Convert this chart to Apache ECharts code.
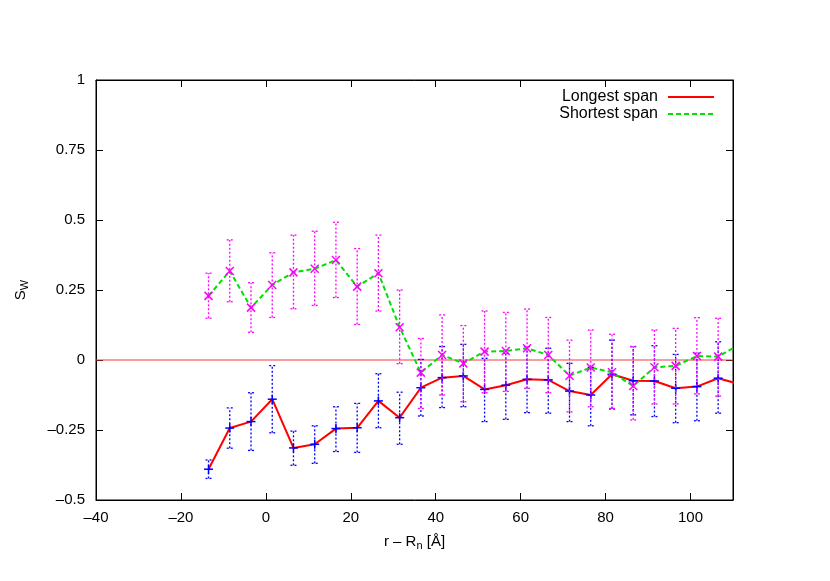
<!DOCTYPE html>
<html>
<head>
<meta charset="utf-8">
<script src="https://cdn.jsdelivr.net/npm/echarts@6/dist/echarts.min.js"></script>
<style>
  html, body { margin: 0; padding: 0; background: #fff; }
  #main { width: 830px; height: 581px; }
</style>
</head>
<body>
<div id="main"></div>
<script>
  // sample positions (r - Rn, in Å)
  const xPos = [-13.5, -8.5, -3.5, 1.5, 6.5, 11.5, 16.5, 21.5, 26.5, 31.5, 36.5, 41.5, 46.5,
    51.5, 56.5, 61.5, 66.5, 71.5, 76.5, 81.5, 86.5, 91.5, 96.5, 101.5, 106.5]

  // Longest span: value, upper and lower error
  const longY = [-0.39, -0.243, -0.22, -0.14, -0.314, -0.301, -0.245, -0.242, -0.146, -0.206, -0.099, -0.063, -0.057,
    -0.105, -0.09, -0.069, -0.071, -0.111, -0.125, -0.051, -0.074, -0.075, -0.101, -0.095, -0.065]
  const longHi = [-0.357, -0.171, -0.117, -0.02, -0.254, -0.235, -0.167, -0.155, -0.049, -0.115, 0.002, 0.048, 0.056,
    0.006, 0.024, 0.048, 0.042, -0.012, -0.026, 0.071, 0.048, 0.051, 0.02, 0.024, 0.065]
  const longLo = [-0.423, -0.315, -0.323, -0.26, -0.376, -0.369, -0.327, -0.33, -0.242, -0.301, -0.2, -0.17, -0.167,
    -0.22, -0.212, -0.188, -0.19, -0.22, -0.235, -0.175, -0.196, -0.202, -0.224, -0.217, -0.19]

  // Shortest span
  const shortY = [0.229, 0.318, 0.187, 0.268, 0.313, 0.326, 0.357, 0.262, 0.31, 0.117, -0.045, 0.018, -0.012,
    0.03, 0.032, 0.042, 0.018, -0.056, -0.027, -0.044, -0.093, -0.026, -0.021, 0.014, 0.012]
  const shortHi = [0.31, 0.429, 0.276, 0.383, 0.446, 0.46, 0.492, 0.398, 0.446, 0.25, 0.077, 0.161, 0.123,
    0.175, 0.17, 0.182, 0.152, 0.071, 0.107, 0.092, 0.048, 0.107, 0.113, 0.151, 0.149]
  const shortLo = [0.149, 0.208, 0.099, 0.152, 0.183, 0.195, 0.223, 0.127, 0.175, -0.013, -0.173, -0.125, -0.149,
    -0.117, -0.112, -0.101, -0.117, -0.185, -0.167, -0.173, -0.214, -0.157, -0.157, -0.121, -0.129]

  // next point, just past the right edge (line is clipped there)
  const tailX = 111.5
  const longTail = -0.086
  const shortTail = 0.055

  const xTicks = { min: -40, max: 110, interval: 20 }
  const yTicks = { min: -0.5, max: 1, interval: 0.25 }

  const FONT = 'Liberation Sans'
  const minus = v => String(v).replace('-', '\u2013')

  function lineData(ys, tail) {
    const d = xPos.map((x, i) => [x, ys[i]])
    d.push([tailX, tail])
    return d
  }
  function barData(ys, lo, hi) {
    return xPos.map((x, i) => [x, lo[i], hi[i], ys[i]])
  }

  // error bars (dotted) + point marker
  function barRenderer(color, marker) {
    return function (params, api) {
      const x = api.value(0)
      const pLo = api.coord([x, api.value(1)])
      const pHi = api.coord([x, api.value(2)])
      const p = api.coord([x, api.value(3)])
      const dotted = { stroke: color, lineWidth: 1.3, lineDash: [2, 2] }
      const solid = { stroke: color, lineWidth: 1.5 }
      const c = 3, m = 4
      const children = [
        { type: 'line', shape: { x1: pLo[0], y1: pLo[1], x2: pHi[0], y2: pHi[1] }, style: dotted },
        { type: 'line', shape: { x1: pLo[0] - c, y1: pLo[1], x2: pLo[0] + c, y2: pLo[1] }, style: dotted },
        { type: 'line', shape: { x1: pHi[0] - c, y1: pHi[1], x2: pHi[0] + c, y2: pHi[1] }, style: dotted }
      ]
      if (marker === 'plus') {
        children.push({ type: 'line', shape: { x1: p[0] - m - 0.5, y1: p[1], x2: p[0] + m + 0.5, y2: p[1] }, style: solid })
        children.push({ type: 'line', shape: { x1: p[0], y1: p[1] - m - 0.5, x2: p[0], y2: p[1] + m + 0.5 }, style: solid })
      } else {
        children.push({ type: 'line', shape: { x1: p[0] - m, y1: p[1] - m, x2: p[0] + m, y2: p[1] + m }, style: solid })
        children.push({ type: 'line', shape: { x1: p[0] - m, y1: p[1] + m, x2: p[0] + m, y2: p[1] - m }, style: solid })
      }
      return { type: 'group', children: children }
    }
  }

  const myechart = echarts.init(document.getElementById('main'))
  const axisTxt = { color: '#000', fontFamily: FONT, fontSize: 15 }
  const frameLine = { show: true, onZero: false, lineStyle: { color: '#000' } }
  const inTick = { inside: true, length: 7, lineStyle: { color: '#000' } }
  const option = {
    animation: false,
    backgroundColor: '#fff',
    grid: {
      left: 96, right: 97, top: 80, bottom: 81,
      show: true, borderColor: '#000', borderWidth: 1
    },
    legend: {
      orient: 'vertical',
      right: 110,
      top: 84,
      align: 'right',
      itemWidth: 46,
      itemHeight: 15,
      itemGap: 1,
      data: ['Longest span', 'Shortest span'],
      itemStyle: { opacity: 0 },
      textStyle: { color: '#000', fontFamily: FONT, fontSize: 16, padding: [0, 5, 0, 0] }
    },
    xAxis: [
      {
        type: 'value', ...xTicks,
        name: '{a|r \u2013 R}{b|n}{a| [\u00c5]}',
        nameLocation: 'middle',
        nameGap: 32,
        nameTextStyle: {
          rich: {
            a: { color: '#000', fontFamily: FONT, fontSize: 15 },
            b: { color: '#000', fontFamily: FONT, fontSize: 11, verticalAlign: 'bottom', padding: [8, 0, 0, 0] }
          }
        },
        axisLine: frameLine,
        axisTick: inTick,
        axisLabel: { ...axisTxt, margin: 10, showMaxLabel: false, formatter: minus },
        splitLine: { show: false }
      },
      {
        type: 'value', ...xTicks, position: 'top',
        axisLine: frameLine,
        axisTick: inTick,
        axisLabel: { show: false },
        splitLine: { show: false }
      }
    ],
    yAxis: [
      {
        type: 'value', ...yTicks,
        name: '{s|S}{w|W}',
        nameLocation: 'middle',
        nameRotate: 90,
        nameGap: 66,
        nameTextStyle: {
          rich: {
            s: { color: '#000', fontFamily: FONT, fontSize: 15 },
            w: { color: '#000', fontFamily: FONT, fontSize: 11, verticalAlign: 'bottom', padding: [8, 0, 0, 0] }
          }
        },
        axisLine: frameLine,
        axisTick: inTick,
        axisLabel: { ...axisTxt, margin: 11, formatter: minus },
        splitLine: { show: false }
      },
      {
        type: 'value', ...yTicks, position: 'right',
        axisLine: frameLine,
        axisTick: inTick,
        axisLabel: { show: false },
        splitLine: { show: false }
      }
    ],
    series: [
      {
        name: 'zero', type: 'line', symbol: 'none', silent: true,
        data: [[xTicks.min, 0], [xTicks.max, 0]],
        lineStyle: { color: '#f03c3c', width: 1 }, z: 1
      },
      {
        name: 'Longest span', type: 'line', symbol: 'none',
        data: lineData(longY, longTail),
        color: '#ff0000',
        lineStyle: { color: '#ff0000', width: 2 }, z: 2
      },
      {
        name: 'Shortest span', type: 'line', symbol: 'none',
        data: lineData(shortY, shortTail),
        color: '#00e000',
        lineStyle: { color: '#00e000', width: 2, type: [5, 3] }, z: 2
      },
      {
        name: 'longBars', type: 'custom', silent: true,
        data: barData(longY, longLo, longHi),
        encode: { x: 0, y: [1, 2, 3] },
        renderItem: barRenderer('#0000ff', 'plus'), z: 3
      },
      {
        name: 'shortBars', type: 'custom', silent: true,
        data: barData(shortY, shortLo, shortHi),
        encode: { x: 0, y: [1, 2, 3] },
        renderItem: barRenderer('#ff00ff', 'cross'), z: 3
      }
    ]
  }
  myechart.setOption(option)
</script>
</body>
</html>
